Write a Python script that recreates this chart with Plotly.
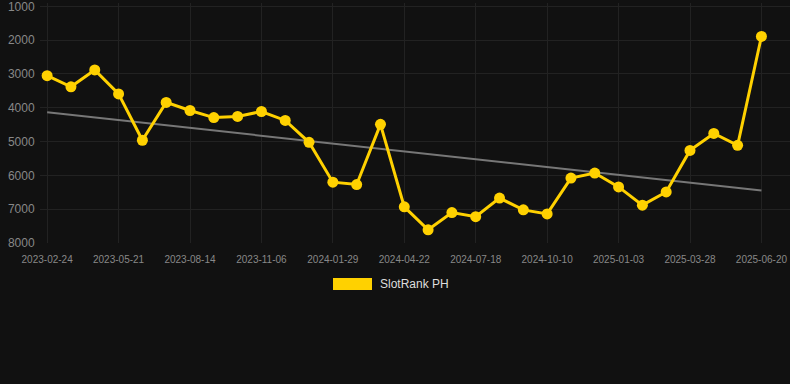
import plotly.graph_objects as go

dates = ["2023-02-24", "2023-03-24", "2023-04-22", "2023-05-21", "2023-06-18", "2023-07-16",
         "2023-08-14", "2023-09-11", "2023-10-09", "2023-11-06", "2023-12-04", "2024-01-01",
         "2024-01-29", "2024-02-26", "2024-03-25", "2024-04-22", "2024-05-20", "2024-06-19",
         "2024-07-18", "2024-08-14", "2024-09-12", "2024-10-10", "2024-11-07", "2024-12-06",
         "2025-01-03", "2025-01-31", "2025-02-28", "2025-03-28", "2025-04-25", "2025-05-23",
         "2025-06-20"]
rank = [3050, 3380, 2880, 3590, 4960, 3840, 4080, 4290, 4255, 4110, 4375, 5020,
        6200, 6270, 4490, 6930, 7610, 7100, 7220, 6670, 7020, 7140, 6080, 5930,
        6340, 6880, 6490, 5260, 4760, 5110, 1890]
trend_values = [4130, 6450]
tick_labels = dates[::3]
y_ticks = [1000, 2000, 3000, 4000, 5000, 6000, 7000, 8000]
series_name = "SlotRank PH"

gold = "#FFD100"
bg = "#111111"
grid = "#222222"

Y_TOP = 900
B = 243                              # plot bottom pixel (8000)
PX_PER_UNIT = (243 - 6) / 7000.0
T = 6 - (1000 - Y_TOP) * PX_PER_UNIT  # plot top pixel
L, R = 40, 790
PH = B - T
PW = R - L

fig = go.Figure()
fig.add_trace(go.Scatter(x=[dates[0], dates[-1]], y=trend_values, mode="lines",
                         line=dict(color="#777777", width=2), showlegend=False, hoverinfo="skip"))
fig.add_trace(go.Scatter(x=dates, y=rank, mode="lines+markers", name=series_name,
                         line=dict(color=gold, width=3),
                         marker=dict(color=gold, size=11), showlegend=False))

fig.update_layout(
    width=790, height=384,
    paper_bgcolor=bg, plot_bgcolor=bg,
    margin=dict(l=L, r=790 - R, t=T, b=384 - B),
    font=dict(family="Liberation Sans, Arial, sans-serif", color="#888888"),
    xaxis=dict(type="category", categoryorder="array", categoryarray=dates,
               range=[-0.3, 31.2], tickvals=tick_labels, ticktext=tick_labels,
               tickfont=dict(size=10, color="#888888"), showgrid=True, gridcolor=grid,
               gridwidth=1, zeroline=False, showline=False,
               ticks="outside", ticklen=7, tickcolor=bg, ticklabeloverflow="allow"),
    yaxis=dict(range=[8000, Y_TOP], tickvals=y_ticks, tickfont=dict(size=12, color="#888888"),
               showgrid=True, gridcolor=grid, gridwidth=1, zeroline=False, showline=False,
               ticks="outside", ticklen=2, tickcolor=bg, ticklabeloverflow="allow"),
    shapes=[dict(type="rect", xref="paper", yref="paper",
                 x0=(333 - L) / PW, x1=(372 - L) / PW,
                 y0=(B - 290) / PH, y1=(B - 278) / PH,
                 fillcolor=gold, line=dict(width=0))],
    annotations=[dict(text=series_name, xref="paper", yref="paper",
                      x=(378 - L) / PW, y=(B - 284) / PH, xanchor="left", yanchor="middle",
                      showarrow=False, font=dict(size=12, color="#dddddd"))],
)

fig.write_html("out.html", config={"displayModeBar": False},
               post_script="document.body.style.margin='0';document.body.style.background='#111111';")
